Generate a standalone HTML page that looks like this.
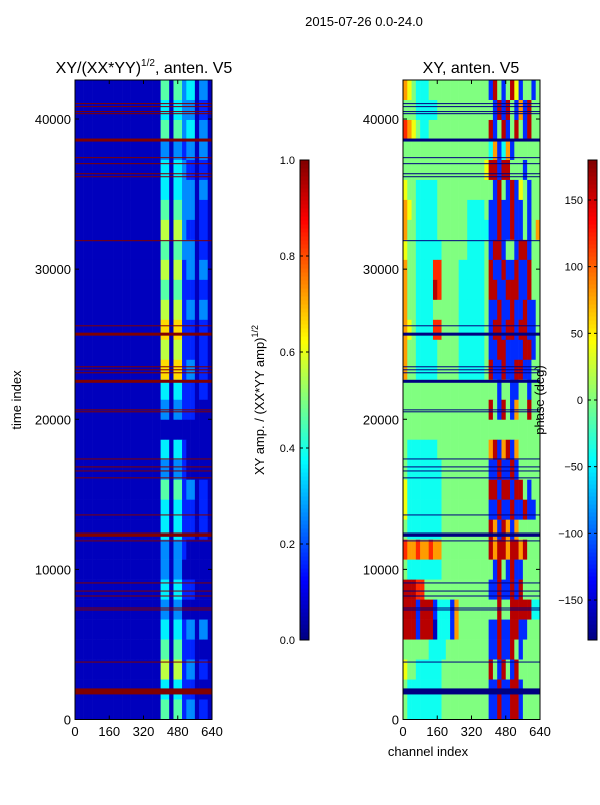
<!DOCTYPE html>
<html><head><meta charset="utf-8">
<style>
body{margin:0;background:#fff;}
svg text{font-family:"Liberation Sans",sans-serif;fill:#000;}
</style></head>
<body>
<svg id="fig" width="600" height="800" xmlns="http://www.w3.org/2000/svg">
<rect width="600" height="800" fill="#fff"/>
<text x="364" y="26" font-size="13" text-anchor="middle">2015-07-26 0.0-24.0</text>
<text x="144" y="73" font-size="16" text-anchor="middle">XY/(XX*YY)<tspan font-size="10" dy="-7">1/2</tspan><tspan dy="7">, anten. V5</tspan></text>
<text x="471" y="73" font-size="16" text-anchor="middle">XY, anten. V5</text>
<g id="p1"></g>
<g id="p2"></g>
<g id="cb1"></g>
<g id="cb2"></g>
<g id="axes"></g>
<text transform="translate(21,400) rotate(-90)" font-size="13" text-anchor="middle">time index</text>
<text x="428" y="756" font-size="13" text-anchor="middle">channel index</text>
<text transform="translate(264,400) rotate(-90)" font-size="13" text-anchor="middle">XY amp. / (XX*YY amp)<tspan font-size="9" dy="-6">1/2</tspan></text>
<text transform="translate(544,400) rotate(-90)" font-size="13" text-anchor="middle">phase (deg)</text>
</svg>
<script>
// ---- data ----
const timeMax = 42600;
const chanMax = 640;
const xTicks = [0,160,320,480,640];
const yTicks = [0,10000,20000,30000,40000];
const ampTicks = [0.0,0.2,0.4,0.6,0.8,1.0];
const phaseTicks = [-150,-100,-50,0,50,100,150];
// rows top->bottom, 32 channel bins each; digit d -> amp d/10-0.04
const ampRows = [
"11111111111111111111551553441331",
"11111111111111111111441443331221",
"11111111111111111111551553441331",
"11111111111111111111331332331331",
"11111111111111111111441443221221",
"11111111111111111111441443331331",
"11111111111111111111551553331221",
"11111111111111111111661663221221",
"11111111111111111111551553331221",
"11111111111111111111661662331331",
"11111111111111111111551552221221",
"11111111111111111111661662331331",
"11111111111111111111771772221221",
"11111111111111111111661662221221",
"11111111111111111111771772331221",
"11111111111111111111441442221221",
"11111111111111111111331332221111",
"11111111111111111111111111111111",
"11111111111111111111441442111111",
"11111111111111111111331332111111",
"11111111111111111111551552331221",
"11111111111111111111441442221221",
"11111111111111111111441442221221",
"11111111111111111111331332111111",
"11111111111111111111331331111111",
"11111111111111111111441442221111",
"11111111111111111111331331111111",
"11111111111111111111441442331331",
"11111111111111111111551552221111",
"11111111111111111111661662331221",
"11111111111111111111441442221111",
"11111111111111111111551552331221"];
// digit d -> phase (d-4)*40 deg (capped at 180)
const phaseRows = [
"65433344444444444444184148514414",
"44433333444444444444418184161844",
"76543344444444444444814814841844",
"44444444444444444444361361444444",
"44444444444444444445881884441444",
"54433333444444444444418418154144",
"65433333444444433334118118114144",
"64433333444444433333118118114146",
"54433333344444433334188144188144",
"64433337744443333334811811811844",
"64433338744443333334881188811844",
"64433334444443333334118118118114",
"65433337744443333334188188188114",
"64433333444443333334118811118814",
"64433333444443333334811811881144",
"44444444444444444444441441144144",
"44444444444444444444841841644844",
"44444444444444444444444444444444",
"43333333444444444444681681644444",
"43333333344444444444118118144444",
"53333333344444444444881881884144",
"53333333344444444444118118118114",
"43333333344444444444861861644444",
"76676676644444444444868868868444",
"43333333344444444444418418114444",
"88877444444444444444118118184444",
"88818881333164444444448448888833",
"88818880333164444444118118811444",
"44444433334444444444118118414444",
"54433333344444444444841841844444",
"43333333344444444444118118814444",
"43333333344444444444118118814444"];
// flagged time rows (start index, width)
const flagStarts = [41000,40800,40470,40330,38500,37400,37000,36330,36130,31870,26200,25570,23470,23270,23070,22430,20600,20470,17330,16800,16530,16070,13600,12400,12170,11870,9070,8530,8200,7400,7270,3800,1670];
const flagWidths = [60,60,60,60,200,60,60,60,60,60,60,200,60,60,60,200,60,60,60,60,60,60,60,60,200,60,60,60,60,60,60,60,400];

// ---- geometry ----
const NS="http://www.w3.org/2000/svg";
const plotTop=80, plotBot=719.5, plotH=plotBot-plotTop;
function yScale(t){return plotBot - t/timeMax*plotH;}
function jet(v){v=Math.max(0,Math.min(1,v));
 const r=Math.max(0,Math.min(1,1.5-Math.abs(4*v-3)));
 const g=Math.max(0,Math.min(1,1.5-Math.abs(4*v-2)));
 const b=Math.max(0,Math.min(1,1.5-Math.abs(4*v-1)));
 return `rgb(${Math.round(r*255)},${Math.round(g*255)},${Math.round(b*255)})`;}
function mk(tag,attrs,parent){const e=document.createElementNS(NS,tag);for(const k in attrs)e.setAttribute(k,attrs[k]);parent.appendChild(e);return e;}

function drawPanel(gid,x0,rows,valFn,flagVal){
 const g=document.getElementById(gid);
 const w=137;
 const xs=c=>x0+c/chanMax*w;
 const nR=rows.length, rowT=timeMax/nR;
 rows.forEach((row,ri)=>{
  const tHi=timeMax-ri*rowT, tLo=tHi-rowT;
  for(let c=0;c<row.length;c++){
   const cw=chanMax/row.length;
   const r=mk('rect',{x:xs(c*cw),y:yScale(tHi),width:xs((c+1)*cw)-xs(c*cw)+0.3,height:yScale(tLo)-yScale(tHi)+0.3,fill:jet(valFn(+row[c]))},g);
   
   
  }
 });
 flagStarts.forEach((t,i)=>{
  const r=mk('rect',{x:x0,y:yScale(t+flagWidths[i]),width:w,height:Math.max(1,yScale(t)-yScale(t+flagWidths[i])),fill:jet(flagVal)},g);
  
  
 });
 const ax=document.getElementById('axes');
 const f=mk('rect',{x:x0,y:plotTop,width:w,height:plotH,fill:'none',stroke:'#000','stroke-width':1},ax);
 
 
 xTicks.forEach(v=>{const x=xs(v);
  mk('line',{x1:x,x2:x,y1:plotBot,y2:plotBot-4,stroke:'#000'},ax);
  mk('line',{x1:x,x2:x,y1:plotTop,y2:plotTop+4,stroke:'#000'},ax);
  const t=mk('text',{x:x,y:736,'font-size':13,'text-anchor':'middle'},ax);t.textContent=v;
  
  
 });
 yTicks.forEach(v=>{const y=yScale(v);
  mk('line',{x1:x0,x2:x0+4,y1:y,y2:y,stroke:'#000'},ax);
  mk('line',{x1:x0+w,x2:x0+w-4,y1:y,y2:y,stroke:'#000'},ax);
  const t=mk('text',{x:x0-4,y:y+5,'font-size':13,'text-anchor':'end'},ax);t.textContent=v;
  
  
 });
}
drawPanel('p1',75,ampRows,d=>d/10-0.04,1);
drawPanel('p2',403,phaseRows,d=>(Math.min(180,(d-4)*40)+180)/360,0);

function drawBar(gid,x0,lo,hi,ticks,fmt){
 const g=document.getElementById(gid);
 const y0=160,y1=640,n=120;
 for(let i=0;i<n;i++){
  const r=mk('rect',{x:x0,y:y1-(i+1)*(y1-y0)/n,width:9,height:(y1-y0)/n+0.5,fill:jet((i+0.5)/n)},g);
  
  
 }
 mk('rect',{x:x0,y:y0,width:9,height:y1-y0,fill:'none',stroke:'#000'},g);
 ticks.forEach(v=>{const y=y1-(v-lo)/(hi-lo)*(y1-y0);
  mk('line',{x1:x0,x2:x0+3,y1:y,y2:y,stroke:'#000'},g);
  mk('line',{x1:x0+9,x2:x0+6,y1:y,y2:y,stroke:'#000'},g);
  const t=mk('text',{x:x0-5,y:y+4,'font-size':11,'text-anchor':'end'},g);t.textContent=fmt(v);
  
  
 });
}
drawBar('cb1',300,0,1,ampTicks,v=>v.toFixed(1));
drawBar('cb2',588,-180,180,phaseTicks,v=>v<0?'\u2212'+(-v):String(v));
</script>
</body></html>
